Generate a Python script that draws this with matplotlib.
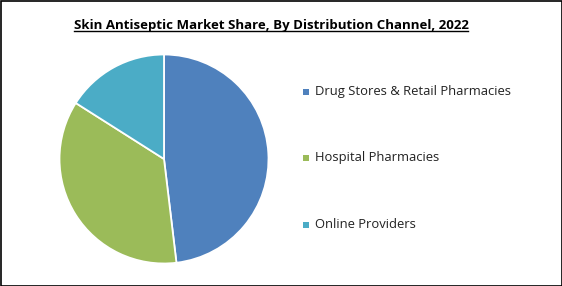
import matplotlib
matplotlib.use("Agg")
import matplotlib.pyplot as plt
from matplotlib.lines import Line2D
from matplotlib.patches import Rectangle

# data
channels = ["Drug Stores & Retail Pharmacies", "Hospital Pharmacies", "Online Providers"]
shares = [48.1, 35.9, 16.0]
colors = ["#4F81BD", "#9BBB59", "#4BACC6"]
title = "Skin Antiseptic Market Share, By Distribution Channel, 2022"

plt.rcParams['font.family'] = ['Open Sans', 'DejaVu Sans']

fig = plt.figure(figsize=(5.62, 2.86), dpi=100)
W, H = 562, 286

# pie axes: center (164,159), radius ~104 px
cx, cy, r = 164, 159, 104.5
ax = fig.add_axes([(cx - r) / W, 1 - (cy + r) / H, 2 * r / W, 2 * r / H])
ax.pie(shares, colors=colors, startangle=90, counterclock=False,
       wedgeprops=dict(edgecolor="white", linewidth=1.3))
ax.set_xlim(-1, 1)
ax.set_ylim(-1, 1)
ax.set_aspect("equal")
ax.axis("off")

# title with underline
t = fig.text(271 / W, 1 - 25 / H, title, ha="center", va="center",
             fontsize=9.5, fontweight="bold")
fig.canvas.draw()
bb = t.get_window_extent()
uy = bb.y0 + 1
fig.add_artist(Line2D([bb.x0 / W, bb.x1 / W], [uy / H, uy / H], color="black", linewidth=1))

# legend
rows_y = [92, 158, 225]
for name, col, y in zip(channels, colors, rows_y):
    fig.add_artist(Rectangle(((303) / W, 1 - (y + 3) / H), 6 / W, 6 / H,
                             facecolor=col, edgecolor="none"))
    fig.text(315 / W, 1 - y / H, name, ha="left", va="center", fontsize=9.4, color="#222222")

# outer border
fig.add_artist(Rectangle((0.5 / W, 0.5 / H), (W - 1) / W, (H - 1) / H,
                         fill=False, edgecolor="black", linewidth=1.2))

fig.savefig("out.png", dpi=100)
